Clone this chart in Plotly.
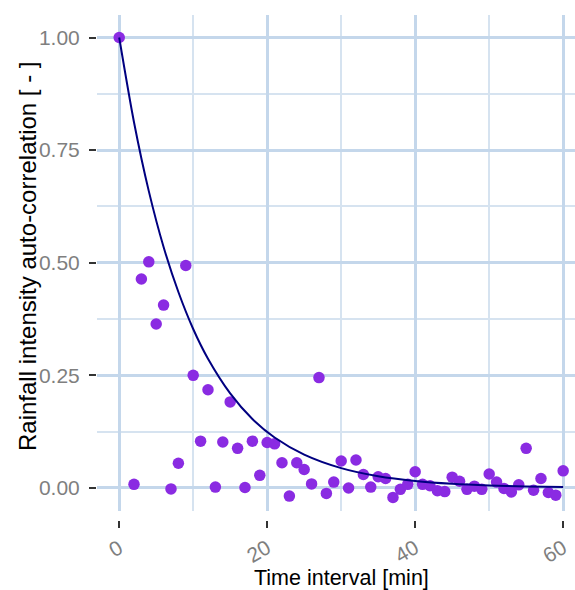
import plotly.graph_objects as go

# Observed auto-correlation by lag (minutes)
lag_min = [0, 2, 3, 4, 5, 6, 7, 8, 9, 10, 11, 12, 13, 14, 15, 16, 17, 18, 19, 20,
           21, 22, 23, 24, 25, 26, 27, 28, 29, 30, 31, 32, 33, 34, 35, 36, 37, 38, 39, 40,
           41, 42, 43, 44, 45, 46, 47, 48, 49, 50, 51, 52, 53, 54, 55, 56, 57, 58, 59, 60]
autocorr = [1.00, 0.008, 0.464, 0.502, 0.364, 0.406, -0.002, 0.055, 0.494, 0.250,
            0.104, 0.218, 0.002, 0.102, 0.191, 0.088, 0.001, 0.104, 0.028, 0.101,
            0.098, 0.056, -0.018, 0.056, 0.041, 0.009, 0.245, -0.012, 0.013, 0.060,
            0.000, 0.062, 0.030, 0.002, 0.025, 0.021, -0.021, -0.003, 0.008, 0.036,
            0.008, 0.005, -0.006, -0.008, 0.024, 0.015, -0.003, 0.004, -0.003, 0.031,
            0.013, -0.001, -0.009, 0.007, 0.088, -0.005, 0.021, -0.010, -0.016, 0.038]

# Fitted exponential decay curve (read at selected lags)
fit_lag = [0, 2, 4, 6, 8, 10, 12, 15, 18, 21, 25, 30, 35, 40, 45, 50, 55, 60]
fit_val = [1.00, 0.812, 0.659, 0.535, 0.435, 0.353, 0.287, 0.210, 0.153, 0.112,
           0.074, 0.044, 0.026, 0.0155, 0.0092, 0.0055, 0.0033, 0.0020]

x_ticks = [0, 20, 40, 60]
y_ticks = [0.0, 0.25, 0.5, 0.75, 1.0]

grid_major = "#c4d7eb"
grid_minor = "#d6e3f0"
tick_font = dict(family="Liberation Sans, Arial, sans-serif", size=21, color="#7f7f7f")
title_font = dict(family="Liberation Sans, Arial, sans-serif", size=21.5, color="#000000")

fig = go.Figure()
fig.add_trace(go.Scatter(x=lag_min, y=autocorr, mode="markers",
                         marker=dict(color="#8a2be2", size=11.5, line=dict(width=0)),
                         showlegend=False, hoverinfo="skip"))
fig.add_trace(go.Scatter(x=fit_lag, y=fit_val, mode="lines",
                         line=dict(color="#000080", width=2, shape="spline", smoothing=0.8),
                         showlegend=False, hoverinfo="skip"))

H_PLOT = 590 - 15 - 70
fig.update_layout(
    width=575, height=590,
    margin=dict(l=97, r=0, t=15, b=70),
    paper_bgcolor="white", plot_bgcolor="white",
    xaxis=dict(range=[-3, 61.6], tickvals=x_ticks, ticktext=[str(v) for v in x_ticks],
               anchor="free", position=0,
               showgrid=True, gridcolor=grid_major, gridwidth=2.5, zeroline=False,
               showline=False, ticks="outside", ticklen=7, tickwidth=2, tickcolor="#333333",
               tickangle=-30, tickfont=tick_font, ticklabelstandoff=0,
               minor=dict(tickvals=[10, 30, 50], showgrid=True, gridcolor=grid_minor,
                          gridwidth=1.5, ticks="")),
    yaxis=dict(range=[-0.05, 1.05], domain=[(520 - 510.5) / H_PLOT, 1],
               tickvals=y_ticks, ticktext=["0.00", "0.25", "0.50", "0.75", "1.00"],
               showgrid=True, gridcolor=grid_major, gridwidth=2.5, zeroline=False,
               showline=False, ticks="outside", ticklen=7, tickwidth=2, tickcolor="#333333",
               tickfont=tick_font, ticklabelstandoff=5,
               minor=dict(tickvals=[0.125, 0.375, 0.625, 0.875], showgrid=True,
                          gridcolor=grid_minor, gridwidth=1.5, ticks="")),
    annotations=[
        dict(text="Time interval [min]", xref="paper", yref="paper",
             x=(341 - 97) / 478, y=(520 - 578) / H_PLOT, xanchor="center", yanchor="middle",
             showarrow=False, font=title_font),
        dict(text="Rainfall intensity auto-correlation [ - ]", xref="paper", yref="paper",
             x=(27 - 97) / 478, y=(520 - 256) / H_PLOT, xanchor="center", yanchor="middle",
             textangle=-90, showarrow=False, font=dict(title_font, size=24)),
    ],
)

fig.write_html("out.html")
